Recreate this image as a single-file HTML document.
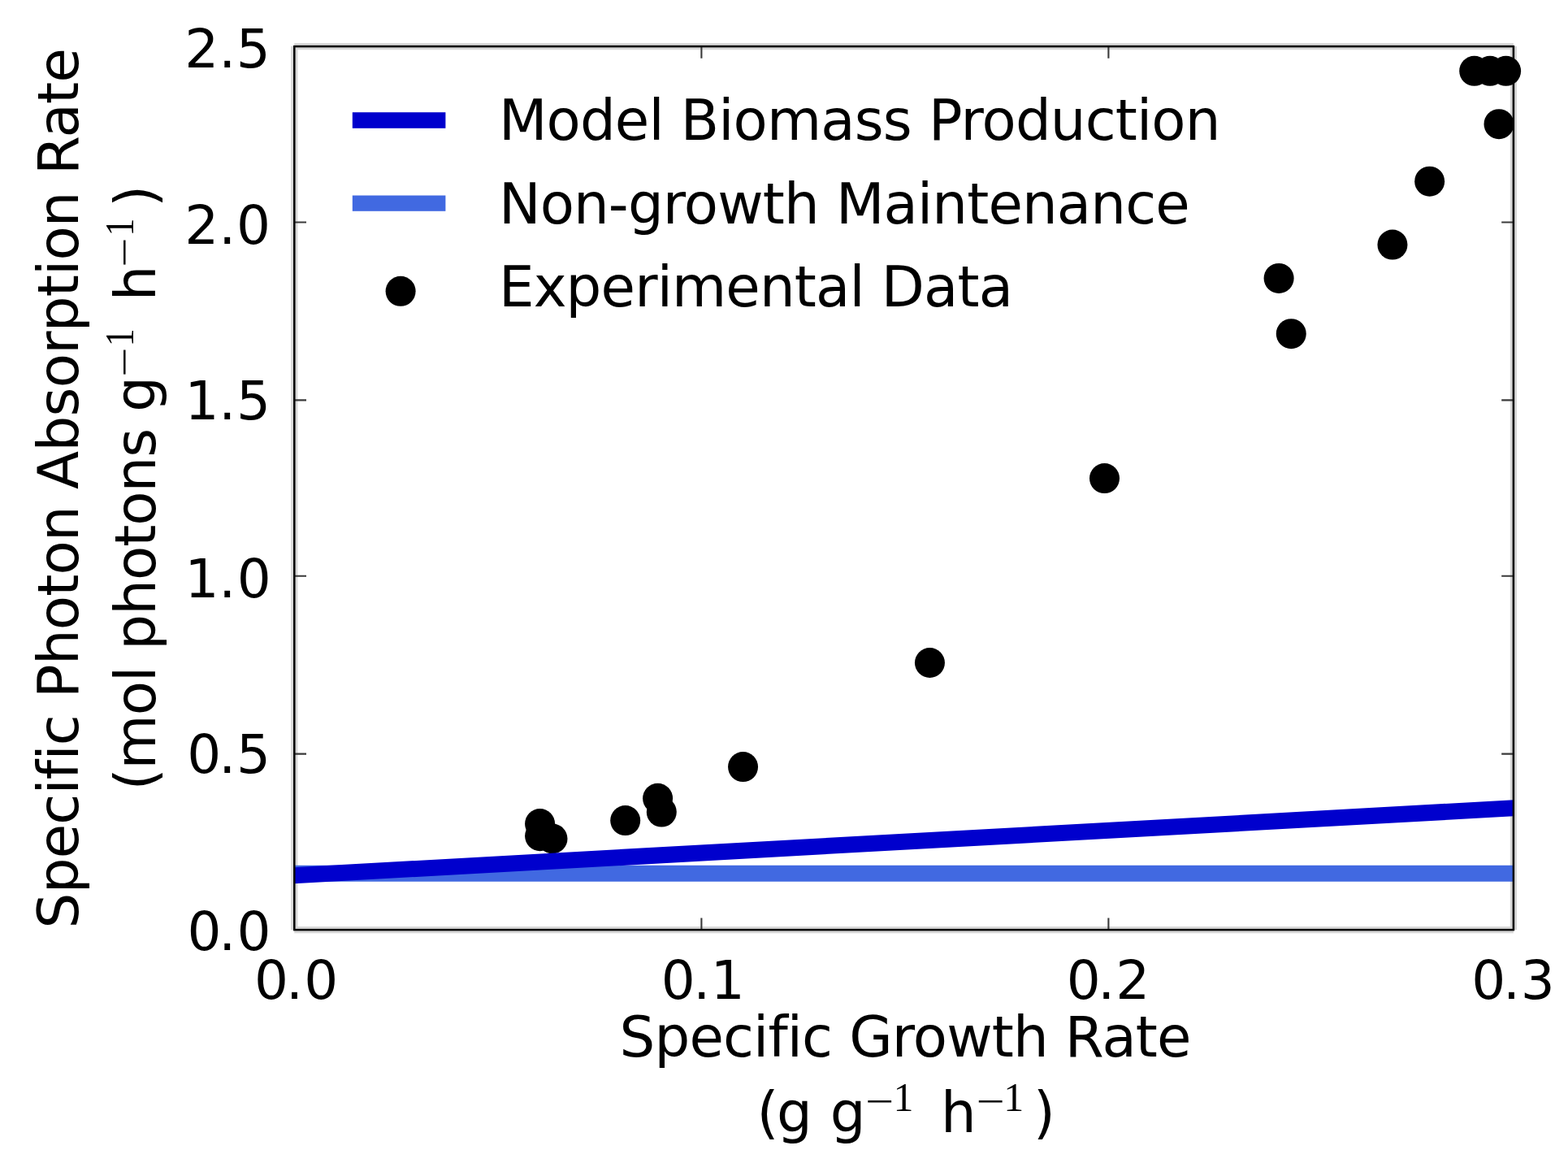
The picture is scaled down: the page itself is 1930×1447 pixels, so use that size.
<!DOCTYPE html>
<html><head><meta charset="utf-8"><title>Specific Photon Absorption Rate vs Specific Growth Rate</title>
<style>
html,body{margin:0;padding:0;background:#fff;width:1930px;height:1447px;overflow:hidden}
svg{display:block}
text{font-family:"DejaVu Sans","Liberation Sans",sans-serif;fill:#000;font-variant-ligatures:none;font-kerning:normal}
.m{font-family:"Liberation Serif","DejaVu Serif",serif}
</style></head><body>
<svg width="1930" height="1447" viewBox="0 0 1930 1447">
<rect x="0" y="0" width="1930" height="1447" fill="#fff"/>
<defs><clipPath id="ax"><rect x="362.3" y="57.1" width="1500.60" height="1087.00"/></clipPath></defs>
<path d="M362.3 57.1H1862.9 M362.3 1144.1H1862.9 M362.3 57.1V1144.1 M1862.9 57.1V1144.1" fill="none" stroke="#d8d8d8" stroke-width="8.2" stroke-linecap="butt"/>
<g fill="#000">
<circle cx="664.6" cy="1013.6" r="18.5"/>
<circle cx="664.6" cy="1028.7" r="18.5"/>
<circle cx="680.0" cy="1032.0" r="18.5"/>
<circle cx="769.7" cy="1009.6" r="18.5"/>
<circle cx="809.6" cy="982.3" r="18.5"/>
<circle cx="814.3" cy="999.1" r="18.5"/>
<circle cx="914.55" cy="943.6" r="18.5"/>
<circle cx="1144.45" cy="815.5" r="18.5"/>
<circle cx="1359.5" cy="588.6" r="18.5"/>
<circle cx="1574.1" cy="342.4" r="18.5"/>
<circle cx="1589.25" cy="410.7" r="18.5"/>
<circle cx="1713.95" cy="301.1" r="18.5"/>
<circle cx="1759.65" cy="223.2" r="18.5"/>
<circle cx="1814.7" cy="87.3" r="18.5"/>
<circle cx="1834.0" cy="87.3" r="18.5"/>
<circle cx="1853.6" cy="87.3" r="18.5"/>
<circle cx="1845.0" cy="152.7" r="18.5"/>
</g>
<g clip-path="url(#ax)">
<line x1="342.3" y1="1074.8" x2="1882.9" y2="1074.8" stroke="#4169E1" stroke-width="20"/>
<line x1="342.3" y1="1078.30" x2="1882.9" y2="993.20" stroke="#0000CD" stroke-width="20"/>
</g>
<path d="M362.3 927.6h14.7 M1862.9 927.6h-14.7 M362.3 708.8h14.7 M1862.9 708.8h-14.7 M362.3 492.4h14.7 M1862.9 492.4h-14.7 M362.3 273.5h14.7 M1862.9 273.5h-14.7 M863.4 1144.1v-14.7 M863.4 57.1v14.7 M1364.4 1144.1v-14.7 M1364.4 57.1v14.7" stroke="#3a3a3a" stroke-width="2.1" fill="none"/>
<rect x="362.3" y="57.1" width="1500.60" height="1087.00" fill="none" stroke="#000" stroke-width="2.5"/>
<text x="230.55 269.34 291.55" y="1168.50" font-size="66">0.0</text>
<text x="230.15 269.14 291.01" y="951.45" font-size="66">0.5</text>
<text x="227.55 269.14 291.75" y="734.95" font-size="66">1.0</text>
<text x="227.55 269.14 291.01" y="515.50" font-size="66">1.5</text>
<text x="227.27 269.14 291.05" y="299.90" font-size="66">2.0</text>
<text x="227.17 269.34 290.81" y="83.40" font-size="66">2.5</text>
<text x="313.05 352.04 374.35" y="1229.30" font-size="66">0.0</text>
<text x="813.75 853.14 874.65" y="1229.30" font-size="66">0.1</text>
<text x="1312.65 1351.34 1373.17" y="1229.30" font-size="66">0.2</text>
<text x="1811.35 1850.04 1871.67" y="1229.30" font-size="66">0.3</text>
<text x="762.60" y="1299.70" font-size="69" letter-spacing="-0.87">Specific Growth Rate</text>
<text x="931.60" y="1393.00" font-size="69" letter-spacing="-0.8">(</text>
<text x="955.90" y="1393.00" font-size="69" letter-spacing="-0.8">g</text>
<text x="1021.70" y="1393.00" font-size="69" letter-spacing="-0.8">g</text>
<text class="m" transform="translate(1065.00 1372.30) scale(1.24 1)" x="0" y="0" font-size="50">−</text>
<text class="m" x="1099.40" y="1366.60" font-size="50">1</text>
<text x="1158.10" y="1393.00" font-size="69" letter-spacing="-0.8">h</text>
<text class="m" transform="translate(1201.40 1372.30) scale(1.24 1)" x="0" y="0" font-size="50">−</text>
<text class="m" x="1235.30" y="1366.60" font-size="50">1</text>
<text x="1272.10" y="1393.00" font-size="69" letter-spacing="-0.8">)</text>
<g transform="rotate(-90)">
<text x="-1142.40" y="95.90" font-size="69" letter-spacing="-0.78">Specific Photon Absorption Rate</text>
<text x="-972.40" y="191.00" font-size="69" letter-spacing="-0.95">(mol photons g</text>
<text class="m" transform="translate(-464.00 169.60) scale(1.29 1)" x="0" y="0" font-size="50">−</text>
<text class="m" transform="translate(-426.30 163.90) scale(0.88 1)" x="0" y="0" font-size="50">1</text>
<text x="-370.30" y="191.00" font-size="69" letter-spacing="-0.95">h</text>
<text class="m" transform="translate(-328.90 169.60) scale(1.29 1)" x="0" y="0" font-size="50">−</text>
<text class="m" transform="translate(-290.50 163.90) scale(0.88 1)" x="0" y="0" font-size="50">1</text>
<text x="-254.80" y="191.00" font-size="69" letter-spacing="-0.95">)</text>
</g>
<rect x="433.8" y="138.2" width="114.6" height="19.6" fill="#0000CD"/>
<rect x="433.8" y="240.5" width="114.6" height="19.3" fill="#4169E1"/>
<circle cx="493.1" cy="358.3" r="18.5" fill="#000"/>
<text x="613.90" y="172.20" font-size="69" letter-spacing="-0.86">Model Biomass Production</text>
<text x="613.90" y="274.50" font-size="69" letter-spacing="-0.86">Non-growth Maintenance</text>
<text x="613.90" y="376.50" font-size="69" letter-spacing="-0.86">Experimental Data</text>
</svg>
</body></html>
